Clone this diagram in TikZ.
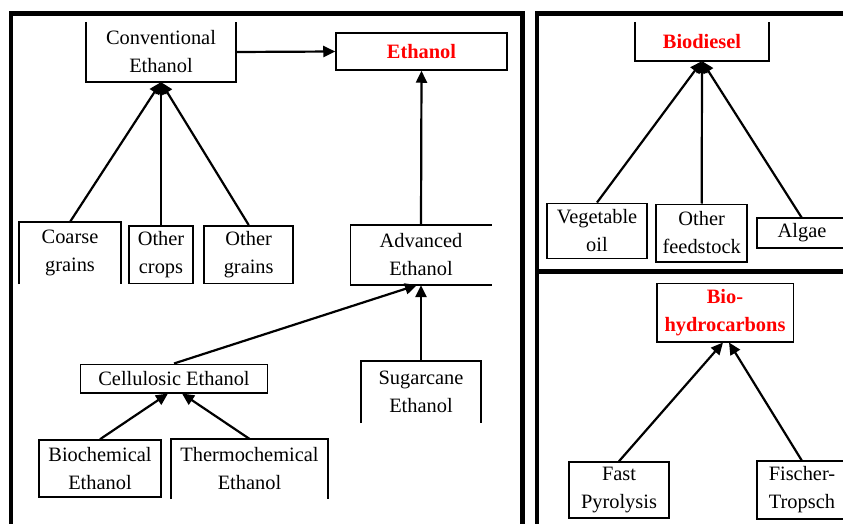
\documentclass[tikz,border=0pt]{standalone}
\usepackage{fontspec}
\setmainfont{Liberation Serif}
\usetikzlibrary{arrows.meta}

\tikzset{
	fbox/.style={rectangle, inner sep=0pt, align=center, font=\fontsize{20.4}{28}\selectfont},
	shut/.style={fbox, draw, line width=1.5pt},
	fuel/.style={font=\fontsize{20.4}{28}\selectfont\bfseries, text=red},
	side/.style={line width=1.5pt},
	panel/.style={line width=4.5pt}
}

\begin{document}
\begin{tikzpicture}[x=1pt,y=-1pt,>={Triangle[length=12pt,width=11pt]},line width=2.2pt]
			\useasboundingbox (0,0) rectangle (843,524);
			% panels
			\draw[panel] (11,530) -- (11,13.5) -- (522.5,13.5) -- (522.5,530);
			\draw[panel] (537,530) -- (537,13.5) -- (850,13.5);
			\draw[panel] (537,271.3) -- (850,271.3);
			% ethanol
			\node[fbox, minimum width=148pt, minimum height=58pt] (conv) at (161,52) {Conventional\\Ethanol};
			\node[shut, fuel, minimum width=171pt, minimum height=37pt] (eth) at (421.5,51.5) {Ethanol};
			\node[fbox, minimum width=100pt, minimum height=60pt] (coarse) at (70,253) {Coarse\\grains};
			\node[shut, minimum width=64pt, minimum height=57.5pt] (crops) at (161,254.5) {Other\\crops};
			\node[shut, minimum width=89pt, minimum height=57.5pt] (ograins) at (248.7,254.5) {Other\\grains};
			\node[fbox, minimum width=139pt, minimum height=58pt] (adv) at (421,255) {Advanced\\Ethanol};
			\node[shut, minimum width=187pt, minimum height=28.5pt] (cell) at (174,378.5) {Cellulosic Ethanol};
			\node[fbox, minimum width=118pt, minimum height=60pt] (sugar) at (421,392) {Sugarcane\\Ethanol};
			\node[shut, minimum width=122pt, minimum height=57pt] (bioch) at (100,468.5) {Biochemical\\Ethanol};
			\node[fbox, minimum width=155pt, minimum height=58pt] (thermo) at (249.5,469) {Thermochemical\\Ethanol};
			% biodiesel
			\node[fbox, fuel, minimum width=132pt, minimum height=37pt] (biod) at (702,41.5) {Biodiesel};
			\node[shut, minimum width=100pt, minimum height=55pt] (veg) at (597,230.8) {Vegetable\\oil};
			\node[shut, minimum width=91pt, minimum height=57.5pt] (ofeed) at (701.7,233) {Other\\feedstock};
			\node[fbox, minimum width=88pt, minimum height=27.5pt] (algae) at (802,233) {Algae};
			% bio-hydrocarbons
			\node[shut, fuel, minimum width=136.5pt, minimum height=58.5pt] (biohc) at (725,312.5) {Bio-\\hydrocarbons};
			\node[shut, minimum width=100pt, minimum height=56pt] (fast) at (619,490) {Fast\\Pyrolysis};
			\node[fbox, minimum width=88pt, minimum height=56pt] (fischer) at (802,490) {Fischer-\\Tropsch};
			% open boxes
			\draw[side] (conv.north west) -- (conv.south west) -- (conv.south east) -- (conv.north east);
			\draw[side] (coarse.south west) -- (coarse.north west) -- (coarse.north east) -- (coarse.south east);
			\draw[side] (adv.north east) -- (adv.north west) -- (adv.south west) -- (adv.south east);
			\draw[side] (sugar.south west) -- (sugar.north west) -- (sugar.north east) -- (sugar.south east);
			\draw[side] (thermo.south west) -- (thermo.north west) -- (thermo.north east) -- (thermo.south east);
			\draw[side] (biod.north west) -- (biod.south west) -- (biod.south east) -- (biod.north east);
			\draw[side] (algae.north east) -- (algae.north west) -- (algae.south west) -- (algae.south east);
			\draw[side] (fischer.north east) -- (fischer.north west) -- (fischer.south west) -- (fischer.south east);
			\path[->]
			(conv.east) edge (eth.west)
			(adv.north) edge (eth.south)
			(coarse.north) edge (conv.south)
			(crops.north) edge (conv.south)
			(ograins.north) edge (conv.south)
			(cell.north) edge ([xshift=-4pt]adv.south)
			(sugar.north) edge (adv.south)
			(bioch.north) edge ([xshift=-6pt]cell.south)
			(thermo.north) edge ([xshift=8pt]cell.south)
			(veg.north) edge (biod.south)
			(ofeed.north) edge (biod.south)
			(algae.north) edge (biod.south)
			(fast.north) edge ([xshift=-2pt]biohc.south)
			(fischer.north) edge ([xshift=4pt]biohc.south);
		\end{tikzpicture}
\end{document}
